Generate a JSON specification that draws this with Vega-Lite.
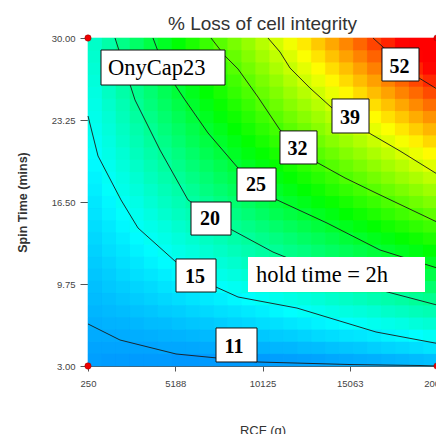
{
"$schema":"https://vega.github.io/schema/vega-lite/v6.json",
"width":349,"height":328,
"autosize":{"type":"none"},
"padding":{"left":88,"top":38,"right":0,"bottom":68},
"background":"white",
"title":{"text":"% Loss of cell integrity","font":"Liberation Sans","fontSize":19,"fontWeight":"normal","color":"#333333","anchor":"middle","baseline":"alphabetic","offset":1,"dy":17},
"config":{"view":{"stroke":"#444444","strokeWidth":1},"axis":{"labelFont":"Liberation Sans","titleFont":"Liberation Sans","labelColor":"#444444","titleColor":"#333333","tickColor":"#555555","domainColor":"#555555","grid":false,"zindex":1}},
"datasets":{
"grid":[
{"r":645,"t":3.5,"v":10.1},{"r":1435,"t":3.5,"v":10.0},{"r":2225,"t":3.5,"v":10.0},{"r":3015,"t":3.5,"v":9.9},{"r":3805,"t":3.5,"v":9.9},{"r":4595,"t":3.5,"v":9.9},{"r":5385,"t":3.5,"v":9.8},{"r":6175,"t":3.5,"v":9.8},{"r":6965,"t":3.5,"v":9.9},{"r":7755,"t":3.5,"v":9.9},{"r":8545,"t":3.5,"v":9.9},{"r":9335,"t":3.5,"v":10.0},{"r":10125,"t":3.5,"v":10.0},{"r":10915,"t":3.5,"v":10.1},{"r":11705,"t":3.5,"v":10.2},{"r":12495,"t":3.5,"v":10.3},{"r":13285,"t":3.5,"v":10.4},{"r":14075,"t":3.5,"v":10.6},{"r":14865,"t":3.5,"v":10.7},{"r":15655,"t":3.5,"v":10.9},{"r":16445,"t":3.5,"v":11.0},{"r":17235,"t":3.5,"v":11.2},{"r":18025,"t":3.5,"v":11.4},{"r":18815,"t":3.5,"v":11.6},{"r":19605,"t":3.5,"v":11.8},
{"r":645,"t":4.5,"v":10.4},{"r":1435,"t":4.5,"v":10.4},{"r":2225,"t":4.5,"v":10.4},{"r":3015,"t":4.5,"v":10.4},{"r":3805,"t":4.5,"v":10.4},{"r":4595,"t":4.5,"v":10.5},{"r":5385,"t":4.5,"v":10.5},{"r":6175,"t":4.5,"v":10.6},{"r":6965,"t":4.5,"v":10.7},{"r":7755,"t":4.5,"v":10.8},{"r":8545,"t":4.5,"v":10.9},{"r":9335,"t":4.5,"v":11.0},{"r":10125,"t":4.5,"v":11.1},{"r":10915,"t":4.5,"v":11.3},{"r":11705,"t":4.5,"v":11.4},{"r":12495,"t":4.5,"v":11.6},{"r":13285,"t":4.5,"v":11.7},{"r":14075,"t":4.5,"v":11.9},{"r":14865,"t":4.5,"v":12.1},{"r":15655,"t":4.5,"v":12.3},{"r":16445,"t":4.5,"v":12.6},{"r":17235,"t":4.5,"v":12.8},{"r":18025,"t":4.5,"v":13.0},{"r":18815,"t":4.5,"v":13.3},{"r":19605,"t":4.5,"v":13.6},
{"r":645,"t":5.5,"v":10.7},{"r":1435,"t":5.5,"v":10.7},{"r":2225,"t":5.5,"v":10.8},{"r":3015,"t":5.5,"v":10.9},{"r":3805,"t":5.5,"v":11.0},{"r":4595,"t":5.5,"v":11.1},{"r":5385,"t":5.5,"v":11.2},{"r":6175,"t":5.5,"v":11.4},{"r":6965,"t":5.5,"v":11.5},{"r":7755,"t":5.5,"v":11.7},{"r":8545,"t":5.5,"v":11.8},{"r":9335,"t":5.5,"v":12.0},{"r":10125,"t":5.5,"v":12.2},{"r":10915,"t":5.5,"v":12.4},{"r":11705,"t":5.5,"v":12.6},{"r":12495,"t":5.5,"v":12.8},{"r":13285,"t":5.5,"v":13.1},{"r":14075,"t":5.5,"v":13.3},{"r":14865,"t":5.5,"v":13.6},{"r":15655,"t":5.5,"v":13.8},{"r":16445,"t":5.5,"v":14.1},{"r":17235,"t":5.5,"v":14.4},{"r":18025,"t":5.5,"v":14.7},{"r":18815,"t":5.5,"v":15.0},{"r":19605,"t":5.5,"v":15.4},
{"r":645,"t":6.5,"v":11.0},{"r":1435,"t":6.5,"v":11.1},{"r":2225,"t":6.5,"v":11.2},{"r":3015,"t":6.5,"v":11.4},{"r":3805,"t":6.5,"v":11.6},{"r":4595,"t":6.5,"v":11.7},{"r":5385,"t":6.5,"v":11.9},{"r":6175,"t":6.5,"v":12.1},{"r":6965,"t":6.5,"v":12.3},{"r":7755,"t":6.5,"v":12.5},{"r":8545,"t":6.5,"v":12.8},{"r":9335,"t":6.5,"v":13.0},{"r":10125,"t":6.5,"v":13.3},{"r":10915,"t":6.5,"v":13.5},{"r":11705,"t":6.5,"v":13.8},{"r":12495,"t":6.5,"v":14.1},{"r":13285,"t":6.5,"v":14.4},{"r":14075,"t":6.5,"v":14.7},{"r":14865,"t":6.5,"v":15.0},{"r":15655,"t":6.5,"v":15.3},{"r":16445,"t":6.5,"v":15.7},{"r":17235,"t":6.5,"v":16.0},{"r":18025,"t":6.5,"v":16.4},{"r":18815,"t":6.5,"v":16.8},{"r":19605,"t":6.5,"v":17.2},
{"r":645,"t":7.5,"v":11.3},{"r":1435,"t":7.5,"v":11.5},{"r":2225,"t":7.5,"v":11.7},{"r":3015,"t":7.5,"v":11.9},{"r":3805,"t":7.5,"v":12.1},{"r":4595,"t":7.5,"v":12.4},{"r":5385,"t":7.5,"v":12.6},{"r":6175,"t":7.5,"v":12.9},{"r":6965,"t":7.5,"v":13.1},{"r":7755,"t":7.5,"v":13.4},{"r":8545,"t":7.5,"v":13.7},{"r":9335,"t":7.5,"v":14.0},{"r":10125,"t":7.5,"v":14.3},{"r":10915,"t":7.5,"v":14.7},{"r":11705,"t":7.5,"v":15.0},{"r":12495,"t":7.5,"v":15.3},{"r":13285,"t":7.5,"v":15.7},{"r":14075,"t":7.5,"v":16.1},{"r":14865,"t":7.5,"v":16.5},{"r":15655,"t":7.5,"v":16.8},{"r":16445,"t":7.5,"v":17.2},{"r":17235,"t":7.5,"v":17.7},{"r":18025,"t":7.5,"v":18.1},{"r":18815,"t":7.5,"v":18.5},{"r":19605,"t":7.5,"v":18.9},
{"r":645,"t":8.5,"v":11.6},{"r":1435,"t":8.5,"v":11.8},{"r":2225,"t":8.5,"v":12.1},{"r":3015,"t":8.5,"v":12.4},{"r":3805,"t":8.5,"v":12.7},{"r":4595,"t":8.5,"v":13.0},{"r":5385,"t":8.5,"v":13.3},{"r":6175,"t":8.5,"v":13.6},{"r":6965,"t":8.5,"v":14.0},{"r":7755,"t":8.5,"v":14.3},{"r":8545,"t":8.5,"v":14.7},{"r":9335,"t":8.5,"v":15.0},{"r":10125,"t":8.5,"v":15.4},{"r":10915,"t":8.5,"v":15.8},{"r":11705,"t":8.5,"v":16.2},{"r":12495,"t":8.5,"v":16.6},{"r":13285,"t":8.5,"v":17.0},{"r":14075,"t":8.5,"v":17.5},{"r":14865,"t":8.5,"v":17.9},{"r":15655,"t":8.5,"v":18.3},{"r":16445,"t":8.5,"v":18.8},{"r":17235,"t":8.5,"v":19.3},{"r":18025,"t":8.5,"v":19.7},{"r":18815,"t":8.5,"v":20.2},{"r":19605,"t":8.5,"v":20.7},
{"r":645,"t":9.5,"v":11.8},{"r":1435,"t":9.5,"v":12.2},{"r":2225,"t":9.5,"v":12.5},{"r":3015,"t":9.5,"v":12.9},{"r":3805,"t":9.5,"v":13.2},{"r":4595,"t":9.5,"v":13.6},{"r":5385,"t":9.5,"v":14.0},{"r":6175,"t":9.5,"v":14.4},{"r":6965,"t":9.5,"v":14.8},{"r":7755,"t":9.5,"v":15.2},{"r":8545,"t":9.5,"v":15.6},{"r":9335,"t":9.5,"v":16.0},{"r":10125,"t":9.5,"v":16.5},{"r":10915,"t":9.5,"v":16.9},{"r":11705,"t":9.5,"v":17.4},{"r":12495,"t":9.5,"v":17.9},{"r":13285,"t":9.5,"v":18.3},{"r":14075,"t":9.5,"v":18.8},{"r":14865,"t":9.5,"v":19.3},{"r":15655,"t":9.5,"v":19.8},{"r":16445,"t":9.5,"v":20.3},{"r":17235,"t":9.5,"v":20.9},{"r":18025,"t":9.5,"v":21.4},{"r":18815,"t":9.5,"v":22.0},{"r":19605,"t":9.5,"v":22.5},
{"r":645,"t":10.5,"v":12.1},{"r":1435,"t":10.5,"v":12.5},{"r":2225,"t":10.5,"v":13.0},{"r":3015,"t":10.5,"v":13.4},{"r":3805,"t":10.5,"v":13.8},{"r":4595,"t":10.5,"v":14.2},{"r":5385,"t":10.5,"v":14.7},{"r":6175,"t":10.5,"v":15.1},{"r":6965,"t":10.5,"v":15.6},{"r":7755,"t":10.5,"v":16.1},{"r":8545,"t":10.5,"v":16.6},{"r":9335,"t":10.5,"v":17.1},{"r":10125,"t":10.5,"v":17.6},{"r":10915,"t":10.5,"v":18.1},{"r":11705,"t":10.5,"v":18.6},{"r":12495,"t":10.5,"v":19.1},{"r":13285,"t":10.5,"v":19.7},{"r":14075,"t":10.5,"v":20.2},{"r":14865,"t":10.5,"v":20.8},{"r":15655,"t":10.5,"v":21.3},{"r":16445,"t":10.5,"v":21.9},{"r":17235,"t":10.5,"v":22.5},{"r":18025,"t":10.5,"v":23.1},{"r":18815,"t":10.5,"v":23.7},{"r":19605,"t":10.5,"v":24.3},
{"r":645,"t":11.5,"v":12.4},{"r":1435,"t":11.5,"v":12.9},{"r":2225,"t":11.5,"v":13.4},{"r":3015,"t":11.5,"v":13.9},{"r":3805,"t":11.5,"v":14.4},{"r":4595,"t":11.5,"v":14.9},{"r":5385,"t":11.5,"v":15.4},{"r":6175,"t":11.5,"v":15.9},{"r":6965,"t":11.5,"v":16.4},{"r":7755,"t":11.5,"v":17.0},{"r":8545,"t":11.5,"v":17.5},{"r":9335,"t":11.5,"v":18.1},{"r":10125,"t":11.5,"v":18.6},{"r":10915,"t":11.5,"v":19.2},{"r":11705,"t":11.5,"v":19.8},{"r":12495,"t":11.5,"v":20.4},{"r":13285,"t":11.5,"v":21.0},{"r":14075,"t":11.5,"v":21.6},{"r":14865,"t":11.5,"v":22.2},{"r":15655,"t":11.5,"v":22.8},{"r":16445,"t":11.5,"v":23.5},{"r":17235,"t":11.5,"v":24.1},{"r":18025,"t":11.5,"v":24.8},{"r":18815,"t":11.5,"v":25.4},{"r":19605,"t":11.5,"v":26.1},
{"r":645,"t":12.5,"v":12.7},{"r":1435,"t":12.5,"v":13.3},{"r":2225,"t":12.5,"v":13.8},{"r":3015,"t":12.5,"v":14.4},{"r":3805,"t":12.5,"v":14.9},{"r":4595,"t":12.5,"v":15.5},{"r":5385,"t":12.5,"v":16.1},{"r":6175,"t":12.5,"v":16.7},{"r":6965,"t":12.5,"v":17.3},{"r":7755,"t":12.5,"v":17.9},{"r":8545,"t":12.5,"v":18.5},{"r":9335,"t":12.5,"v":19.1},{"r":10125,"t":12.5,"v":19.7},{"r":10915,"t":12.5,"v":20.3},{"r":11705,"t":12.5,"v":21.0},{"r":12495,"t":12.5,"v":21.6},{"r":13285,"t":12.5,"v":22.3},{"r":14075,"t":12.5,"v":23.0},{"r":14865,"t":12.5,"v":23.6},{"r":15655,"t":12.5,"v":24.3},{"r":16445,"t":12.5,"v":25.0},{"r":17235,"t":12.5,"v":25.7},{"r":18025,"t":12.5,"v":26.4},{"r":18815,"t":12.5,"v":27.1},{"r":19605,"t":12.5,"v":27.9},
{"r":645,"t":13.5,"v":13.0},{"r":1435,"t":13.5,"v":13.6},{"r":2225,"t":13.5,"v":14.2},{"r":3015,"t":13.5,"v":14.9},{"r":3805,"t":13.5,"v":15.5},{"r":4595,"t":13.5,"v":16.1},{"r":5385,"t":13.5,"v":16.8},{"r":6175,"t":13.5,"v":17.4},{"r":6965,"t":13.5,"v":18.1},{"r":7755,"t":13.5,"v":18.7},{"r":8545,"t":13.5,"v":19.4},{"r":9335,"t":13.5,"v":20.1},{"r":10125,"t":13.5,"v":20.8},{"r":10915,"t":13.5,"v":21.5},{"r":11705,"t":13.5,"v":22.2},{"r":12495,"t":13.5,"v":22.9},{"r":13285,"t":13.5,"v":23.6},{"r":14075,"t":13.5,"v":24.3},{"r":14865,"t":13.5,"v":25.1},{"r":15655,"t":13.5,"v":25.8},{"r":16445,"t":13.5,"v":26.6},{"r":17235,"t":13.5,"v":27.3},{"r":18025,"t":13.5,"v":28.1},{"r":18815,"t":13.5,"v":28.9},{"r":19605,"t":13.5,"v":29.7},
{"r":645,"t":14.5,"v":13.3},{"r":1435,"t":14.5,"v":14.0},{"r":2225,"t":14.5,"v":14.7},{"r":3015,"t":14.5,"v":15.4},{"r":3805,"t":14.5,"v":16.0},{"r":4595,"t":14.5,"v":16.7},{"r":5385,"t":14.5,"v":17.5},{"r":6175,"t":14.5,"v":18.2},{"r":6965,"t":14.5,"v":18.9},{"r":7755,"t":14.5,"v":19.6},{"r":8545,"t":14.5,"v":20.4},{"r":9335,"t":14.5,"v":21.1},{"r":10125,"t":14.5,"v":21.9},{"r":10915,"t":14.5,"v":22.6},{"r":11705,"t":14.5,"v":23.4},{"r":12495,"t":14.5,"v":24.2},{"r":13285,"t":14.5,"v":24.9},{"r":14075,"t":14.5,"v":25.7},{"r":14865,"t":14.5,"v":26.5},{"r":15655,"t":14.5,"v":27.3},{"r":16445,"t":14.5,"v":28.1},{"r":17235,"t":14.5,"v":29.0},{"r":18025,"t":14.5,"v":29.8},{"r":18815,"t":14.5,"v":30.6},{"r":19605,"t":14.5,"v":31.4},
{"r":645,"t":15.5,"v":13.6},{"r":1435,"t":15.5,"v":14.4},{"r":2225,"t":15.5,"v":15.1},{"r":3015,"t":15.5,"v":15.8},{"r":3805,"t":15.5,"v":16.6},{"r":4595,"t":15.5,"v":17.4},{"r":5385,"t":15.5,"v":18.2},{"r":6175,"t":15.5,"v":18.9},{"r":6965,"t":15.5,"v":19.7},{"r":7755,"t":15.5,"v":20.5},{"r":8545,"t":15.5,"v":21.3},{"r":9335,"t":15.5,"v":22.1},{"r":10125,"t":15.5,"v":22.9},{"r":10915,"t":15.5,"v":23.8},{"r":11705,"t":15.5,"v":24.6},{"r":12495,"t":15.5,"v":25.4},{"r":13285,"t":15.5,"v":26.3},{"r":14075,"t":15.5,"v":27.1},{"r":14865,"t":15.5,"v":28.0},{"r":15655,"t":15.5,"v":28.8},{"r":16445,"t":15.5,"v":29.7},{"r":17235,"t":15.5,"v":30.6},{"r":18025,"t":15.5,"v":31.5},{"r":18815,"t":15.5,"v":32.3},{"r":19605,"t":15.5,"v":33.2},
{"r":645,"t":16.5,"v":13.9},{"r":1435,"t":16.5,"v":14.7},{"r":2225,"t":16.5,"v":15.5},{"r":3015,"t":16.5,"v":16.3},{"r":3805,"t":16.5,"v":17.2},{"r":4595,"t":16.5,"v":18.0},{"r":5385,"t":16.5,"v":18.8},{"r":6175,"t":16.5,"v":19.7},{"r":6965,"t":16.5,"v":20.5},{"r":7755,"t":16.5,"v":21.4},{"r":8545,"t":16.5,"v":22.3},{"r":9335,"t":16.5,"v":23.1},{"r":10125,"t":16.5,"v":24.0},{"r":10915,"t":16.5,"v":24.9},{"r":11705,"t":16.5,"v":25.8},{"r":12495,"t":16.5,"v":26.7},{"r":13285,"t":16.5,"v":27.6},{"r":14075,"t":16.5,"v":28.5},{"r":14865,"t":16.5,"v":29.4},{"r":15655,"t":16.5,"v":30.3},{"r":16445,"t":16.5,"v":31.2},{"r":17235,"t":16.5,"v":32.2},{"r":18025,"t":16.5,"v":33.1},{"r":18815,"t":16.5,"v":34.1},{"r":19605,"t":16.5,"v":35.0},
{"r":645,"t":17.5,"v":14.2},{"r":1435,"t":17.5,"v":15.1},{"r":2225,"t":17.5,"v":16.0},{"r":3015,"t":17.5,"v":16.8},{"r":3805,"t":17.5,"v":17.7},{"r":4595,"t":17.5,"v":18.6},{"r":5385,"t":17.5,"v":19.5},{"r":6175,"t":17.5,"v":20.4},{"r":6965,"t":17.5,"v":21.4},{"r":7755,"t":17.5,"v":22.3},{"r":8545,"t":17.5,"v":23.2},{"r":9335,"t":17.5,"v":24.1},{"r":10125,"t":17.5,"v":25.1},{"r":10915,"t":17.5,"v":26.0},{"r":11705,"t":17.5,"v":27.0},{"r":12495,"t":17.5,"v":27.9},{"r":13285,"t":17.5,"v":28.9},{"r":14075,"t":17.5,"v":29.9},{"r":14865,"t":17.5,"v":30.8},{"r":15655,"t":17.5,"v":31.8},{"r":16445,"t":17.5,"v":32.8},{"r":17235,"t":17.5,"v":33.8},{"r":18025,"t":17.5,"v":34.8},{"r":18815,"t":17.5,"v":35.8},{"r":19605,"t":17.5,"v":36.8},
{"r":645,"t":18.5,"v":14.5},{"r":1435,"t":18.5,"v":15.4},{"r":2225,"t":18.5,"v":16.4},{"r":3015,"t":18.5,"v":17.3},{"r":3805,"t":18.5,"v":18.3},{"r":4595,"t":18.5,"v":19.3},{"r":5385,"t":18.5,"v":20.2},{"r":6175,"t":18.5,"v":21.2},{"r":6965,"t":18.5,"v":22.2},{"r":7755,"t":18.5,"v":23.2},{"r":8545,"t":18.5,"v":24.2},{"r":9335,"t":18.5,"v":25.2},{"r":10125,"t":18.5,"v":26.2},{"r":10915,"t":18.5,"v":27.2},{"r":11705,"t":18.5,"v":28.2},{"r":12495,"t":18.5,"v":29.2},{"r":13285,"t":18.5,"v":30.2},{"r":14075,"t":18.5,"v":31.2},{"r":14865,"t":18.5,"v":32.3},{"r":15655,"t":18.5,"v":33.3},{"r":16445,"t":18.5,"v":34.4},{"r":17235,"t":18.5,"v":35.4},{"r":18025,"t":18.5,"v":36.5},{"r":18815,"t":18.5,"v":37.5},{"r":19605,"t":18.5,"v":38.6},
{"r":645,"t":19.5,"v":14.8},{"r":1435,"t":19.5,"v":15.8},{"r":2225,"t":19.5,"v":16.8},{"r":3015,"t":19.5,"v":17.8},{"r":3805,"t":19.5,"v":18.9},{"r":4595,"t":19.5,"v":19.9},{"r":5385,"t":19.5,"v":20.9},{"r":6175,"t":19.5,"v":22.0},{"r":6965,"t":19.5,"v":23.0},{"r":7755,"t":19.5,"v":24.0},{"r":8545,"t":19.5,"v":25.1},{"r":9335,"t":19.5,"v":26.2},{"r":10125,"t":19.5,"v":27.2},{"r":10915,"t":19.5,"v":28.3},{"r":11705,"t":19.5,"v":29.4},{"r":12495,"t":19.5,"v":30.5},{"r":13285,"t":19.5,"v":31.5},{"r":14075,"t":19.5,"v":32.6},{"r":14865,"t":19.5,"v":33.7},{"r":15655,"t":19.5,"v":34.8},{"r":16445,"t":19.5,"v":35.9},{"r":17235,"t":19.5,"v":37.0},{"r":18025,"t":19.5,"v":38.1},{"r":18815,"t":19.5,"v":39.3},{"r":19605,"t":19.5,"v":40.4},
{"r":645,"t":20.5,"v":15.1},{"r":1435,"t":20.5,"v":16.2},{"r":2225,"t":20.5,"v":17.2},{"r":3015,"t":20.5,"v":18.3},{"r":3805,"t":20.5,"v":19.4},{"r":4595,"t":20.5,"v":20.5},{"r":5385,"t":20.5,"v":21.6},{"r":6175,"t":20.5,"v":22.7},{"r":6965,"t":20.5,"v":23.8},{"r":7755,"t":20.5,"v":24.9},{"r":8545,"t":20.5,"v":26.1},{"r":9335,"t":20.5,"v":27.2},{"r":10125,"t":20.5,"v":28.3},{"r":10915,"t":20.5,"v":29.4},{"r":11705,"t":20.5,"v":30.6},{"r":12495,"t":20.5,"v":31.7},{"r":13285,"t":20.5,"v":32.9},{"r":14075,"t":20.5,"v":34.0},{"r":14865,"t":20.5,"v":35.2},{"r":15655,"t":20.5,"v":36.3},{"r":16445,"t":20.5,"v":37.5},{"r":17235,"t":20.5,"v":38.6},{"r":18025,"t":20.5,"v":39.8},{"r":18815,"t":20.5,"v":41.0},{"r":19605,"t":20.5,"v":42.2},
{"r":645,"t":21.5,"v":15.4},{"r":1435,"t":21.5,"v":16.5},{"r":2225,"t":21.5,"v":17.7},{"r":3015,"t":21.5,"v":18.8},{"r":3805,"t":21.5,"v":20.0},{"r":4595,"t":21.5,"v":21.1},{"r":5385,"t":21.5,"v":22.3},{"r":6175,"t":21.5,"v":23.5},{"r":6965,"t":21.5,"v":24.6},{"r":7755,"t":21.5,"v":25.8},{"r":8545,"t":21.5,"v":27.0},{"r":9335,"t":21.5,"v":28.2},{"r":10125,"t":21.5,"v":29.4},{"r":10915,"t":21.5,"v":30.6},{"r":11705,"t":21.5,"v":31.8},{"r":12495,"t":21.5,"v":33.0},{"r":13285,"t":21.5,"v":34.2},{"r":14075,"t":21.5,"v":35.4},{"r":14865,"t":21.5,"v":36.6},{"r":15655,"t":21.5,"v":37.8},{"r":16445,"t":21.5,"v":39.0},{"r":17235,"t":21.5,"v":40.3},{"r":18025,"t":21.5,"v":41.5},{"r":18815,"t":21.5,"v":42.7},{"r":19605,"t":21.5,"v":44.0},
{"r":645,"t":22.5,"v":15.7},{"r":1435,"t":22.5,"v":16.9},{"r":2225,"t":22.5,"v":18.1},{"r":3015,"t":22.5,"v":19.3},{"r":3805,"t":22.5,"v":20.5},{"r":4595,"t":22.5,"v":21.8},{"r":5385,"t":22.5,"v":23.0},{"r":6175,"t":22.5,"v":24.2},{"r":6965,"t":22.5,"v":25.5},{"r":7755,"t":22.5,"v":26.7},{"r":8545,"t":22.5,"v":28.0},{"r":9335,"t":22.5,"v":29.2},{"r":10125,"t":22.5,"v":30.4},{"r":10915,"t":22.5,"v":31.7},{"r":11705,"t":22.5,"v":33.0},{"r":12495,"t":22.5,"v":34.2},{"r":13285,"t":22.5,"v":35.5},{"r":14075,"t":22.5,"v":36.8},{"r":14865,"t":22.5,"v":38.0},{"r":15655,"t":22.5,"v":39.3},{"r":16445,"t":22.5,"v":40.6},{"r":17235,"t":22.5,"v":41.9},{"r":18025,"t":22.5,"v":43.2},{"r":18815,"t":22.5,"v":44.5},{"r":19605,"t":22.5,"v":45.7},
{"r":645,"t":23.5,"v":16.0},{"r":1435,"t":23.5,"v":17.2},{"r":2225,"t":23.5,"v":18.5},{"r":3015,"t":23.5,"v":19.8},{"r":3805,"t":23.5,"v":21.1},{"r":4595,"t":23.5,"v":22.4},{"r":5385,"t":23.5,"v":23.7},{"r":6175,"t":23.5,"v":25.0},{"r":6965,"t":23.5,"v":26.3},{"r":7755,"t":23.5,"v":27.6},{"r":8545,"t":23.5,"v":28.9},{"r":9335,"t":23.5,"v":30.2},{"r":10125,"t":23.5,"v":31.5},{"r":10915,"t":23.5,"v":32.8},{"r":11705,"t":23.5,"v":34.2},{"r":12495,"t":23.5,"v":35.5},{"r":13285,"t":23.5,"v":36.8},{"r":14075,"t":23.5,"v":38.1},{"r":14865,"t":23.5,"v":39.5},{"r":15655,"t":23.5,"v":40.8},{"r":16445,"t":23.5,"v":42.1},{"r":17235,"t":23.5,"v":43.5},{"r":18025,"t":23.5,"v":44.8},{"r":18815,"t":23.5,"v":46.2},{"r":19605,"t":23.5,"v":47.5},
{"r":645,"t":24.5,"v":16.2},{"r":1435,"t":24.5,"v":17.6},{"r":2225,"t":24.5,"v":18.9},{"r":3015,"t":24.5,"v":20.3},{"r":3805,"t":24.5,"v":21.7},{"r":4595,"t":24.5,"v":23.0},{"r":5385,"t":24.5,"v":24.4},{"r":6175,"t":24.5,"v":25.7},{"r":6965,"t":24.5,"v":27.1},{"r":7755,"t":24.5,"v":28.5},{"r":8545,"t":24.5,"v":29.8},{"r":9335,"t":24.5,"v":31.2},{"r":10125,"t":24.5,"v":32.6},{"r":10915,"t":24.5,"v":34.0},{"r":11705,"t":24.5,"v":35.4},{"r":12495,"t":24.5,"v":36.7},{"r":13285,"t":24.5,"v":38.1},{"r":14075,"t":24.5,"v":39.5},{"r":14865,"t":24.5,"v":40.9},{"r":15655,"t":24.5,"v":42.3},{"r":16445,"t":24.5,"v":43.7},{"r":17235,"t":24.5,"v":45.1},{"r":18025,"t":24.5,"v":46.5},{"r":18815,"t":24.5,"v":47.9},{"r":19605,"t":24.5,"v":49.3},
{"r":645,"t":25.5,"v":16.5},{"r":1435,"t":25.5,"v":18.0},{"r":2225,"t":25.5,"v":19.4},{"r":3015,"t":25.5,"v":20.8},{"r":3805,"t":25.5,"v":22.2},{"r":4595,"t":25.5,"v":23.6},{"r":5385,"t":25.5,"v":25.1},{"r":6175,"t":25.5,"v":26.5},{"r":6965,"t":25.5,"v":27.9},{"r":7755,"t":25.5,"v":29.4},{"r":8545,"t":25.5,"v":30.8},{"r":9335,"t":25.5,"v":32.2},{"r":10125,"t":25.5,"v":33.7},{"r":10915,"t":25.5,"v":35.1},{"r":11705,"t":25.5,"v":36.6},{"r":12495,"t":25.5,"v":38.0},{"r":13285,"t":25.5,"v":39.4},{"r":14075,"t":25.5,"v":40.9},{"r":14865,"t":25.5,"v":42.3},{"r":15655,"t":25.5,"v":43.8},{"r":16445,"t":25.5,"v":45.3},{"r":17235,"t":25.5,"v":46.7},{"r":18025,"t":25.5,"v":48.2},{"r":18815,"t":25.5,"v":49.6},{"r":19605,"t":25.5,"v":51.1},
{"r":645,"t":26.5,"v":16.8},{"r":1435,"t":26.5,"v":18.3},{"r":2225,"t":26.5,"v":19.8},{"r":3015,"t":26.5,"v":21.3},{"r":3805,"t":26.5,"v":22.8},{"r":4595,"t":26.5,"v":24.3},{"r":5385,"t":26.5,"v":25.8},{"r":6175,"t":26.5,"v":27.3},{"r":6965,"t":26.5,"v":28.7},{"r":7755,"t":26.5,"v":30.2},{"r":8545,"t":26.5,"v":31.7},{"r":9335,"t":26.5,"v":33.2},{"r":10125,"t":26.5,"v":34.7},{"r":10915,"t":26.5,"v":36.2},{"r":11705,"t":26.5,"v":37.8},{"r":12495,"t":26.5,"v":39.3},{"r":13285,"t":26.5,"v":40.8},{"r":14075,"t":26.5,"v":42.3},{"r":14865,"t":26.5,"v":43.8},{"r":15655,"t":26.5,"v":45.3},{"r":16445,"t":26.5,"v":46.8},{"r":17235,"t":26.5,"v":48.3},{"r":18025,"t":26.5,"v":49.8},{"r":18815,"t":26.5,"v":51.4},{"r":19605,"t":26.5,"v":52.9},
{"r":645,"t":27.5,"v":17.1},{"r":1435,"t":27.5,"v":18.7},{"r":2225,"t":27.5,"v":20.2},{"r":3015,"t":27.5,"v":21.8},{"r":3805,"t":27.5,"v":23.3},{"r":4595,"t":27.5,"v":24.9},{"r":5385,"t":27.5,"v":26.5},{"r":6175,"t":27.5,"v":28.0},{"r":6965,"t":27.5,"v":29.6},{"r":7755,"t":27.5,"v":31.1},{"r":8545,"t":27.5,"v":32.7},{"r":9335,"t":27.5,"v":34.3},{"r":10125,"t":27.5,"v":35.8},{"r":10915,"t":27.5,"v":37.4},{"r":11705,"t":27.5,"v":38.9},{"r":12495,"t":27.5,"v":40.5},{"r":13285,"t":27.5,"v":42.1},{"r":14075,"t":27.5,"v":43.7},{"r":14865,"t":27.5,"v":45.2},{"r":15655,"t":27.5,"v":46.8},{"r":16445,"t":27.5,"v":48.4},{"r":17235,"t":27.5,"v":49.9},{"r":18025,"t":27.5,"v":51.5},{"r":18815,"t":27.5,"v":53.1},{"r":19605,"t":27.5,"v":54.7},
{"r":645,"t":28.5,"v":17.4},{"r":1435,"t":28.5,"v":19.0},{"r":2225,"t":28.5,"v":20.7},{"r":3015,"t":28.5,"v":22.3},{"r":3805,"t":28.5,"v":23.9},{"r":4595,"t":28.5,"v":25.5},{"r":5385,"t":28.5,"v":27.1},{"r":6175,"t":28.5,"v":28.8},{"r":6965,"t":28.5,"v":30.4},{"r":7755,"t":28.5,"v":32.0},{"r":8545,"t":28.5,"v":33.6},{"r":9335,"t":28.5,"v":35.3},{"r":10125,"t":28.5,"v":36.9},{"r":10915,"t":28.5,"v":38.5},{"r":11705,"t":28.5,"v":40.1},{"r":12495,"t":28.5,"v":41.8},{"r":13285,"t":28.5,"v":43.4},{"r":14075,"t":28.5,"v":45.0},{"r":14865,"t":28.5,"v":46.7},{"r":15655,"t":28.5,"v":48.3},{"r":16445,"t":28.5,"v":49.9},{"r":17235,"t":28.5,"v":51.6},{"r":18025,"t":28.5,"v":53.2},{"r":18815,"t":28.5,"v":54.8},{"r":19605,"t":28.5,"v":56.5},
{"r":645,"t":29.5,"v":17.7},{"r":1435,"t":29.5,"v":19.4},{"r":2225,"t":29.5,"v":21.1},{"r":3015,"t":29.5,"v":22.8},{"r":3805,"t":29.5,"v":24.5},{"r":4595,"t":29.5,"v":26.1},{"r":5385,"t":29.5,"v":27.8},{"r":6175,"t":29.5,"v":29.5},{"r":6965,"t":29.5,"v":31.2},{"r":7755,"t":29.5,"v":32.9},{"r":8545,"t":29.5,"v":34.6},{"r":9335,"t":29.5,"v":36.3},{"r":10125,"t":29.5,"v":38.0},{"r":10915,"t":29.5,"v":39.6},{"r":11705,"t":29.5,"v":41.3},{"r":12495,"t":29.5,"v":43.0},{"r":13285,"t":29.5,"v":44.7},{"r":14075,"t":29.5,"v":46.4},{"r":14865,"t":29.5,"v":48.1},{"r":15655,"t":29.5,"v":49.8},{"r":16445,"t":29.5,"v":51.5},{"r":17235,"t":29.5,"v":53.2},{"r":18025,"t":29.5,"v":54.8},{"r":18815,"t":29.5,"v":56.5},{"r":19605,"t":29.5,"v":58.2}
],
"contours":[
{"c":"11","r":250,"t":6.46},{"c":"11","r":2061,"t":5.14},{"c":"11","r":5230,"t":3.99},{"c":"11","r":9870,"t":3.33},{"c":"11","r":15077,"t":3.12},{"c":"11","r":19038,"t":3.04},{"c":"11","r":20000,"t":3.0},
{"c":"15","r":250,"t":23.58},{"c":"15","r":816,"t":20.29},{"c":"15","r":2117,"t":16.67},{"c":"15","r":3080,"t":14.36},{"c":"15","r":5230,"t":11.56},{"c":"15","r":7494,"t":9.5},{"c":"15","r":8739,"t":8.68},{"c":"15","r":12077,"t":7.77},{"c":"15","r":16548,"t":5.8},{"c":"15","r":20000,"t":4.86},
{"c":"20","r":1778,"t":30},{"c":"20","r":2910,"t":24.9},{"c":"20","r":4324,"t":20.78},{"c":"20","r":5909,"t":16.67},{"c":"20","r":8399,"t":14.2},{"c":"20","r":10719,"t":12.38},{"c":"20","r":13945,"t":10.49},{"c":"20","r":16548,"t":9.34},{"c":"20","r":20000,"t":8.02},
{"c":"25","r":3928,"t":30},{"c":"25","r":4607,"t":27.37},{"c":"25","r":5739,"t":24.9},{"c":"25","r":7041,"t":22.18},{"c":"25","r":8739,"t":19.3},{"c":"25","r":10946,"t":16.67},{"c":"25","r":13775,"t":14.77},{"c":"25","r":16774,"t":12.55},{"c":"25","r":20000,"t":11.07},
{"c":"32","r":7211,"t":30},{"c":"32","r":8003,"t":28.52},{"c":"32","r":8739,"t":27.45},{"c":"32","r":9870,"t":25.14},{"c":"32","r":11115,"t":22.43},{"c":"32","r":13266,"t":19.71},{"c":"32","r":14794,"t":18.48},{"c":"32","r":16548,"t":17.24},{"c":"32","r":20000,"t":14.85},
{"c":"39","r":10436,"t":30},{"c":"39","r":11115,"t":28.85},{"c":"39","r":11681,"t":27.53},{"c":"39","r":12813,"t":25.88},{"c":"39","r":14058,"t":24.24},{"c":"39","r":16152,"t":22.18},{"c":"39","r":17906,"t":20.7},{"c":"39","r":20000,"t":18.81},
{"c":"52","r":16378,"t":30},{"c":"52","r":16944,"t":29.26},{"c":"52","r":18981,"t":26.71},{"c":"52","r":20000,"t":25.8}
],
"boxes":[
{"k":"OnyCap23","rl":986,"rr":8003,"tb":26.13,"tt":29.01},
{"k":"52","rl":16887,"rr":18981,"tb":26.46,"tt":29.18},
{"k":"39","rl":14058,"rr":16152,"tb":22.18,"tt":24.98},
{"k":"32","rl":11115,"rr":13209,"tb":19.63,"tt":22.35},
{"k":"25","rl":8682,"rr":10889,"tb":16.58,"tt":19.3},
{"k":"20","rl":6079,"rr":8342,"tb":13.78,"tt":16.5},
{"k":"15","rl":5230,"rr":7494,"tb":9.09,"tt":11.81},
{"k":"11","rl":7494,"rr":9814,"tb":3.33,"tt":6.13},
{"k":"hold","rl":9304,"rr":19321,"tb":9.09,"tt":11.97}
],
"numbers":[
{"lab":"52","r":17878,"t":27.14},
{"lab":"39","r":15077,"t":22.96},
{"lab":"32","r":12100,"t":20.37},
{"lab":"25","r":9757,"t":17.41},
{"lab":"20","r":7154,"t":14.61},
{"lab":"15","r":6305,"t":9.81},
{"lab":"11","r":8512,"t":4.07}
],
"notes":[
{"lab":"OnyCap23","r":1382,"t":26.93},
{"lab":"hold time = 2h","r":9757,"t":9.89}
],
"points":[
{"r":250,"t":30},{"r":250,"t":3},{"r":20000,"t":3},{"r":20000,"t":30}
]
},
"layer":[
{"data":{"name":"grid"},
 "transform":[
  {"bin":{"step":790,"extent":[250,20000],"nice":false},"field":"r","as":["r0","r1"]},
  {"bin":{"step":1,"extent":[3,30],"nice":false},"field":"t","as":["t0","t1"]}
 ],
 "mark":{"type":"rect","strokeWidth":0.6},
 "encoding":{
  "x":{"field":"r0","type":"quantitative","title":"RCF (g)","scale":{"domain":[250,20000],"nice":false,"zero":false},
   "axis":{"values":[250,5188,10125,15063,20000],"format":"d","labelFontSize":9.5,"tickSize":5,"labelPadding":7,"labelFlush":false,"labelOverlap":false,"titleFontSize":13,"titleFontWeight":"normal","titlePadding":37}},
  "x2":{"field":"r1"},
  "y":{"field":"t0","type":"quantitative","title":"Spin Time (mins)","scale":{"domain":[3,30],"nice":false,"zero":false},
   "axis":{"values":[3,9.75,16.5,23.25,30],"format":".2f","labelFontSize":9.5,"tickSize":8,"labelPadding":5,"labelFlush":false,"labelOverlap":false,"titleFontSize":12.5,"titleFontWeight":"bold","titlePadding":22}},
  "y2":{"field":"t1"},
  "fill":{"field":"v","type":"quantitative","scale":{"domain":[2,15,28,42,55],"range":["#0000ff","#00ffff","#00ff00","#ffff00","#ff0000"],"clamp":true,"interpolate":"rgb"},"legend":null},
  "stroke":{"field":"v","type":"quantitative","scale":{"domain":[2,15,28,42,55],"range":["#0000ff","#00ffff","#00ff00","#ffff00","#ff0000"],"clamp":true,"interpolate":"rgb"},"legend":null}
 }},
{"data":{"name":"grid"},
 "transform":[
  {"bin":{"step":790,"anchor":645,"extent":[250,20000],"nice":false},"field":"r","as":["r0","r1"]},
  {"bin":{"step":1,"extent":[3,30],"nice":false},"field":"t","as":["t0","t1"]}
 ],
 "mark":{"type":"rect","opacity":0.5,"clip":true},
 "encoding":{
  "x":{"field":"r0","type":"quantitative","title":"RCF (g)","scale":{"domain":[250,20000],"nice":false,"zero":false}},
  "x2":{"field":"r1"},
  "y":{"field":"t0","type":"quantitative","title":"Spin Time (mins)","scale":{"domain":[3,30],"nice":false,"zero":false}},
  "y2":{"field":"t1"},
  "fill":{"field":"v","type":"quantitative","scale":{"domain":[2,15,28,42,55],"range":["#0000ff","#00ffff","#00ff00","#ffff00","#ff0000"],"clamp":true,"interpolate":"rgb"},"legend":null}
 }},
{"data":{"name":"grid"},
 "transform":[
  {"bin":{"step":790,"extent":[250,20000],"nice":false},"field":"r","as":["r0","r1"]},
  {"bin":{"step":1,"anchor":3.5,"extent":[3,30],"nice":false},"field":"t","as":["t0","t1"]}
 ],
 "mark":{"type":"rect","opacity":0.3333,"clip":true},
 "encoding":{
  "x":{"field":"r0","type":"quantitative","title":"RCF (g)","scale":{"domain":[250,20000],"nice":false,"zero":false}},
  "x2":{"field":"r1"},
  "y":{"field":"t0","type":"quantitative","title":"Spin Time (mins)","scale":{"domain":[3,30],"nice":false,"zero":false}},
  "y2":{"field":"t1"},
  "fill":{"field":"v","type":"quantitative","scale":{"domain":[2,15,28,42,55],"range":["#0000ff","#00ffff","#00ff00","#ffff00","#ff0000"],"clamp":true,"interpolate":"rgb"},"legend":null}
 }},
{"data":{"name":"grid"},
 "transform":[
  {"bin":{"step":790,"anchor":645,"extent":[250,20000],"nice":false},"field":"r","as":["r0","r1"]},
  {"bin":{"step":1,"anchor":3.5,"extent":[3,30],"nice":false},"field":"t","as":["t0","t1"]}
 ],
 "mark":{"type":"rect","opacity":0.25,"clip":true},
 "encoding":{
  "x":{"field":"r0","type":"quantitative","title":"RCF (g)","scale":{"domain":[250,20000],"nice":false,"zero":false}},
  "x2":{"field":"r1"},
  "y":{"field":"t0","type":"quantitative","title":"Spin Time (mins)","scale":{"domain":[3,30],"nice":false,"zero":false}},
  "y2":{"field":"t1"},
  "fill":{"field":"v","type":"quantitative","scale":{"domain":[2,15,28,42,55],"range":["#0000ff","#00ffff","#00ff00","#ffff00","#ff0000"],"clamp":true,"interpolate":"rgb"},"legend":null}
 }},
{"data":{"name":"contours"},
 "mark":{"type":"line","color":"#1a1a1a","strokeWidth":0.9},
 "encoding":{
  "x":{"field":"r","type":"quantitative","title":"RCF (g)","scale":{"domain":[250,20000],"nice":false,"zero":false}},
  "y":{"field":"t","type":"quantitative","title":"Spin Time (mins)","scale":{"domain":[3,30],"nice":false,"zero":false}},
  "detail":{"field":"c"}
 }},
{"data":{"name":"boxes"},
 "transform":[{"filter":"datum.k !== 'hold'"}],
 "mark":{"type":"rect","fill":"white","stroke":"#111111","strokeWidth":1},
 "encoding":{
  "x":{"field":"rl","type":"quantitative","title":"RCF (g)","scale":{"domain":[250,20000],"nice":false,"zero":false}},
  "x2":{"field":"rr"},
  "y":{"field":"tb","type":"quantitative","title":"Spin Time (mins)","scale":{"domain":[3,30],"nice":false,"zero":false}},
  "y2":{"field":"tt"}
 }},
{"data":{"name":"boxes"},
 "transform":[{"filter":"datum.k === 'hold'"}],
 "mark":{"type":"rect","fill":"white"},
 "encoding":{
  "x":{"field":"rl","type":"quantitative","title":"RCF (g)","scale":{"domain":[250,20000],"nice":false,"zero":false}},
  "x2":{"field":"rr"},
  "y":{"field":"tb","type":"quantitative","title":"Spin Time (mins)","scale":{"domain":[3,30],"nice":false,"zero":false}},
  "y2":{"field":"tt"}
 }},
{"data":{"name":"numbers"},
 "mark":{"type":"text","font":"Liberation Serif","fontWeight":"bold","fontSize":20,"color":"#000000","align":"center","baseline":"alphabetic"},
 "encoding":{
  "x":{"field":"r","type":"quantitative","title":"RCF (g)","scale":{"domain":[250,20000],"nice":false,"zero":false}},
  "y":{"field":"t","type":"quantitative","title":"Spin Time (mins)","scale":{"domain":[3,30],"nice":false,"zero":false}},
  "text":{"field":"lab"}
 }},
{"data":{"name":"notes"},
 "mark":{"type":"text","font":"Liberation Serif","fontSize":22.5,"color":"#000000","align":"left","baseline":"alphabetic"},
 "encoding":{
  "x":{"field":"r","type":"quantitative","title":"RCF (g)","scale":{"domain":[250,20000],"nice":false,"zero":false}},
  "y":{"field":"t","type":"quantitative","title":"Spin Time (mins)","scale":{"domain":[3,30],"nice":false,"zero":false}},
  "text":{"field":"lab"}
 }},
{"data":{"name":"points"},
 "mark":{"type":"point","shape":"circle","filled":true,"size":40,"color":"#ee0000","stroke":"#990000","strokeWidth":0.5,"opacity":1,"clip":false},
 "encoding":{
  "x":{"field":"r","type":"quantitative","title":"RCF (g)","scale":{"domain":[250,20000],"nice":false,"zero":false}},
  "y":{"field":"t","type":"quantitative","title":"Spin Time (mins)","scale":{"domain":[3,30],"nice":false,"zero":false}}
 }}
]
}
